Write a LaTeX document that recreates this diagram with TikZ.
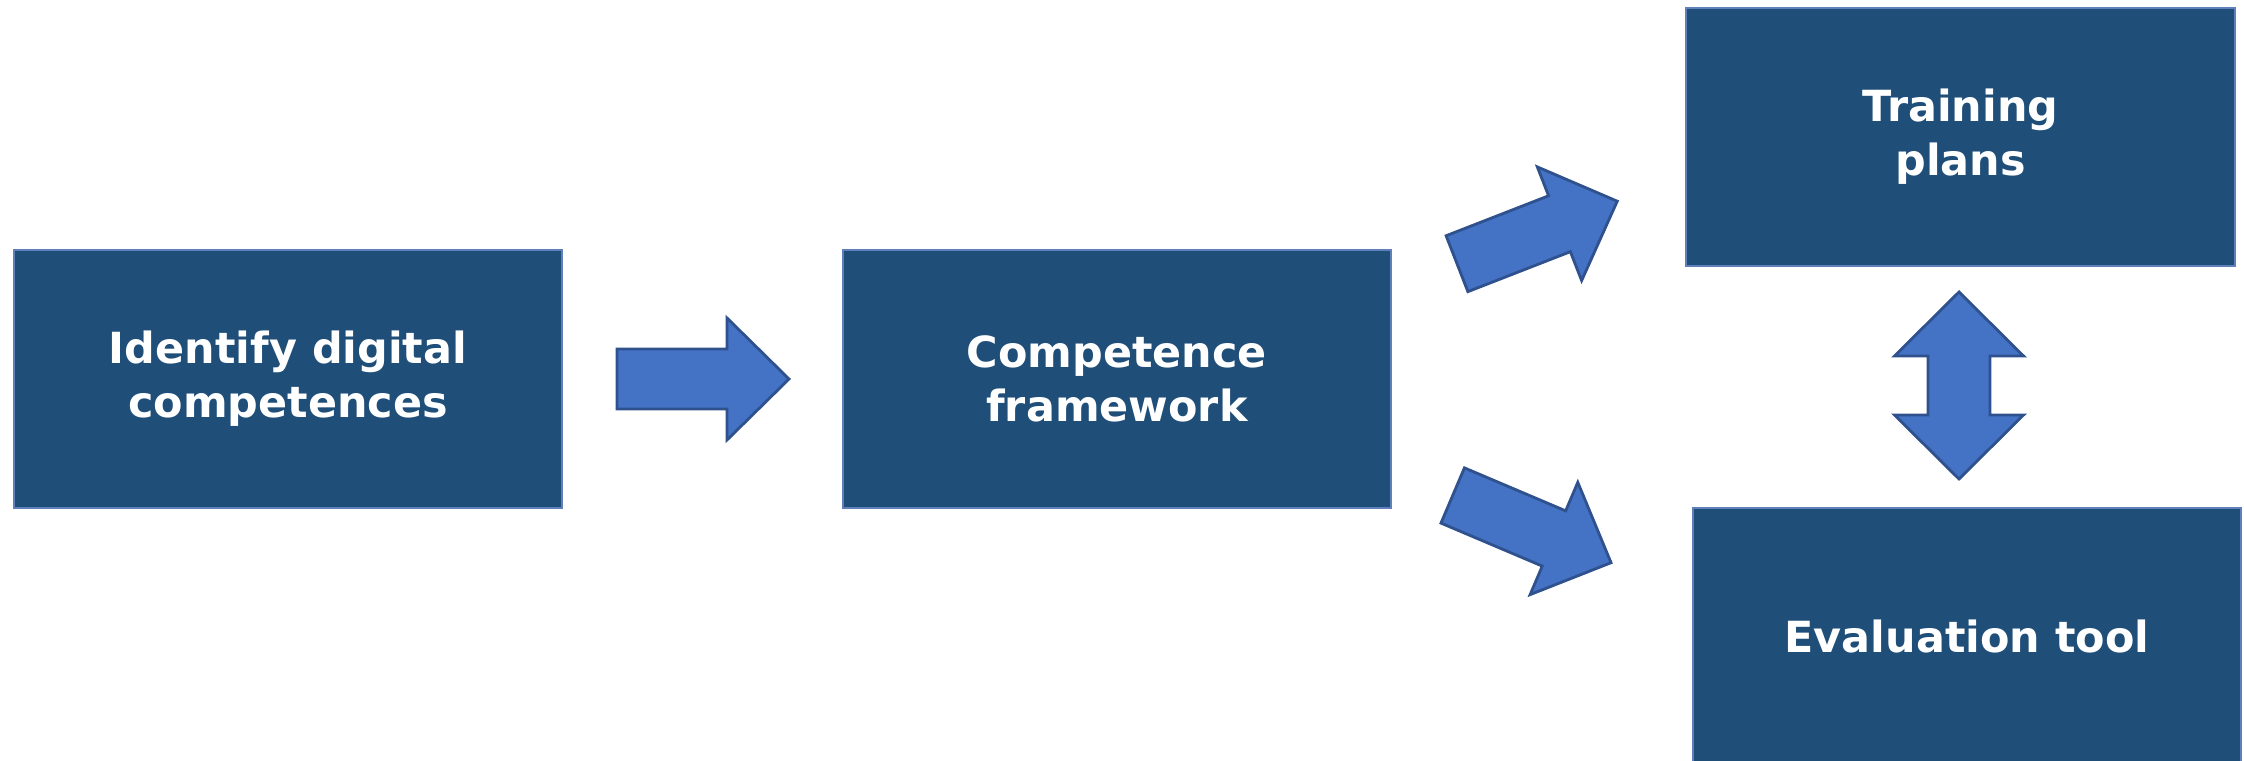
\documentclass[tikz,border=0pt]{standalone}
\usepackage{fontspec}
\setmainfont{DejaVu Sans}
\definecolor{boxfill}{RGB}{31,78,121}
\definecolor{boxline}{RGB}{96,128,188}
\definecolor{arrowfill}{RGB}{68,114,196}
\definecolor{arrowline}{RGB}{47,82,143}
\begin{document}
\begin{tikzpicture}[x=0.01cm,y=-0.01cm,
  box/.style={draw=boxline, fill=boxfill, line width=0.5pt, inner sep=0pt,
    text=white, align=center, font=\bfseries\fontsize{12.2}{15.4}\selectfont},
  blockarrow/.style={draw=arrowline, fill=arrowfill, line width=0.8pt, line join=miter}]
\useasboundingbox (0,0) rectangle (2244,761);

% process boxes
\node[box, minimum width=5.48cm, minimum height=2.58cm] (identify) at (288,379) {Identify digital\\competences};
\node[box, minimum width=5.48cm, minimum height=2.58cm] (framework) at (1117,379) {Competence\\framework};
\node[box, minimum width=5.49cm, minimum height=2.58cm] (training) at (1960.5,137) {Training\\plans};
\node[box, minimum width=5.48cm, minimum height=2.58cm] (evaluation) at (1967,637) {Evaluation tool};

% single block arrow: tail centre at the origin, pointing along +x
\newcommand{\blockarrowpath}{(0,30) -- (110,30) -- (110,61) -- (172,0) -- (110,-61) -- (110,-30) -- (0,-30) -- cycle}

% identify -> framework
\begin{scope}[shift={(617,379)}]
  \draw[blockarrow] \blockarrowpath;
\end{scope}
% framework -> training plans
\begin{scope}[shift={(1457,263.7)}, rotate=21.3]
  \draw[blockarrow] \blockarrowpath;
\end{scope}
% framework -> evaluation tool
\begin{scope}[shift={(1452.7,495.5)}, rotate=-23]
  \draw[blockarrow] \blockarrowpath;
\end{scope}
% training plans <-> evaluation tool
\begin{scope}[shift={(1959,385.5)}]
  \draw[blockarrow] (0,-93.5) -- (64.5,-29.5) -- (31,-29.5) -- (31,29.5) -- (64.5,29.5)
    -- (0,93.5) -- (-64.5,29.5) -- (-31,29.5) -- (-31,-29.5) -- (-64.5,-29.5) -- cycle;
\end{scope}
\end{tikzpicture}
\end{document}
